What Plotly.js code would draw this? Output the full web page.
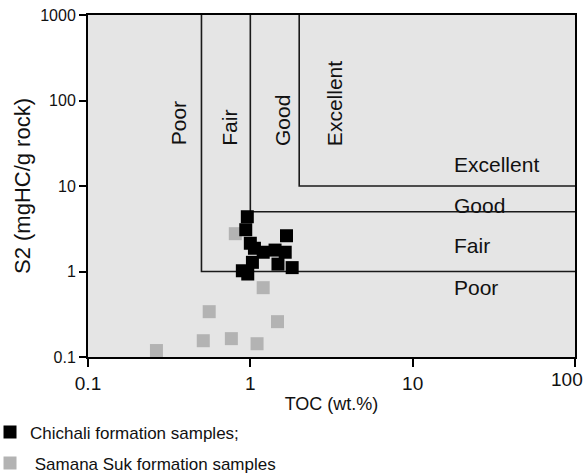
<!DOCTYPE html>
<html>
<head>
<meta charset="utf-8">
<script src="https://cdn.plot.ly/plotly-3.0.1.min.js"></script>
<style>html,body{margin:0;padding:0;background:#fff;}#chart{width:586px;height:476px;}</style>
</head>
<body>
<div id="chart"></div>
<script>
// ---- data ----
const xTickVals = [0.1, 1, 10, 100];
const xTickText = ["0.1", "1", "10", "100"];
const yTickVals = [0.1, 1, 10, 100, 1000];
const yTickText = ["0.1", "1", "10", "100", "1000"];

const chichaliTOC = [0.958, 0.937, 1.00, 1.06, 1.20, 1.42, 1.64, 1.67, 1.48, 1.81, 1.03, 0.964, 0.893];
const chichaliS2  = [4.37, 3.08, 2.14, 1.87, 1.68, 1.78, 1.68, 2.62, 1.22, 1.11, 1.28, 0.935, 1.02];

const samanaTOC = [0.264, 0.558, 0.513, 0.764, 1.10, 1.20, 1.47, 0.808];
const samanaS2  = [0.119, 0.339, 0.155, 0.164, 0.143, 0.647, 0.259, 2.77];

// class boundaries: TOC (wt.%) and S2 (mgHC/g rock)
const tocLimits = [0.5, 1, 2];
const s2Limits = [1, 5, 10];
const tocMax = 100, s2Max = 1000;
const classNames = ["Poor", "Fair", "Good", "Excellent"];

const seriesNames = ["Chichali formation samples;", "\u00a0Samana Suk formation samples"];

// ---- traces ----
const traces = [];
tocLimits.forEach((t, i) => {
  traces.push({
    type: "scatter", mode: "lines",
    x: [t, t, tocMax], y: [s2Max, s2Limits[i], s2Limits[i]],
    line: {color: "#1a1a1a", width: 1.6},
    hoverinfo: "skip", showlegend: false
  });
});
traces.push({
  type: "scatter", mode: "markers", name: seriesNames[1],
  x: samanaTOC, y: samanaS2, legendrank: 2, legendgroup: "b",
  marker: {symbol: "square", size: 13, color: "#b3b3b3"}
});
traces.push({
  type: "scatter", mode: "markers", name: seriesNames[0],
  x: chichaliTOC, y: chichaliS2, legendrank: 1, legendgroup: "a",
  marker: {symbol: "square", size: 13, color: "#000000"}
});

const FONT = "Arial, 'Liberation Sans', sans-serif";
const lastIdx = xTickText.length - 1;
// the last x tick label sits at the figure edge: drawn right-aligned there
const xTickTextShown = xTickText.map((t, i) => (i === lastIdx ? "" : t));

// region labels (paper coordinates)
const annotations = [];
const vertX = [0.186, 0.2916, 0.398, 0.505];
classNames.forEach((n, i) => {
  annotations.push({
    text: n, xref: "paper", yref: "paper", x: vertX[i], y: 0.612,
    xanchor: "center", yanchor: "bottom", textangle: -90, showarrow: false,
    font: {family: FONT, size: 21, color: "#111"}
  });
});
const horizY = [0.202, 0.325, 0.444, 0.564];
classNames.forEach((n, i) => {
  annotations.push({
    text: n, xref: "paper", yref: "paper", x: 0.7475, y: horizY[i],
    xanchor: "left", yanchor: "middle", showarrow: false,
    font: {family: FONT, size: 21, color: "#111"}
  });
});
annotations.push({
  text: xTickText[lastIdx], xref: "paper", yref: "paper", x: 1, y: 0,
  xanchor: "right", yanchor: "top", xshift: 10, yshift: -10, showarrow: false,
  font: {family: FONT, size: 19, color: "#111"}
});

const layout = {
  width: 586, height: 476,
  margin: {l: 88, r: 11, t: 15, b: 119, autoexpand: false},
  paper_bgcolor: "#ffffff",
  plot_bgcolor: "#e5e5e5",
  font: {family: FONT, color: "#111"},
  xaxis: {
    type: "log", range: [-1, 2],
    tickmode: "array", tickvals: xTickVals, ticktext: xTickTextShown,
    ticks: "outside", ticklen: 8, tickwidth: 2, tickcolor: "#000",
    showline: true, linewidth: 2, linecolor: "#000", mirror: true,
    showgrid: false, zeroline: false,
    tickfont: {family: FONT, size: 19, color: "#111"},
    title: {text: "TOC (wt.%)", font: {family: FONT, size: 18, color: "#111"}, standoff: 5},
    automargin: false
  },
  yaxis: {
    type: "log", range: [-1, 3],
    tickmode: "array", tickvals: yTickVals, ticktext: yTickText,
    ticks: "outside", ticklen: 7, tickwidth: 2, tickcolor: "#000",
    showline: true, linewidth: 2, linecolor: "#000", mirror: true,
    showgrid: false, zeroline: false,
    tickfont: {family: FONT, size: 16, color: "#111"},
    title: {text: "S2 (mgHC/g rock)", font: {family: FONT, size: 22, color: "#111"}, standoff: 4},
    automargin: false
  },
  showlegend: true,
  legend: {
    x: -0.2012, y: -0.168, xanchor: "left", yanchor: "top",
    xref: "paper", yref: "paper",
    bgcolor: "rgba(0,0,0,0)", borderwidth: 0,
    font: {family: FONT, size: 17, color: "#111"},
    traceorder: "grouped", tracegroupgap: 6
  },
  annotations: annotations
};

Plotly.newPlot("chart", traces, layout, {displayModeBar: false, staticPlot: true});
</script>
</body>
</html>
